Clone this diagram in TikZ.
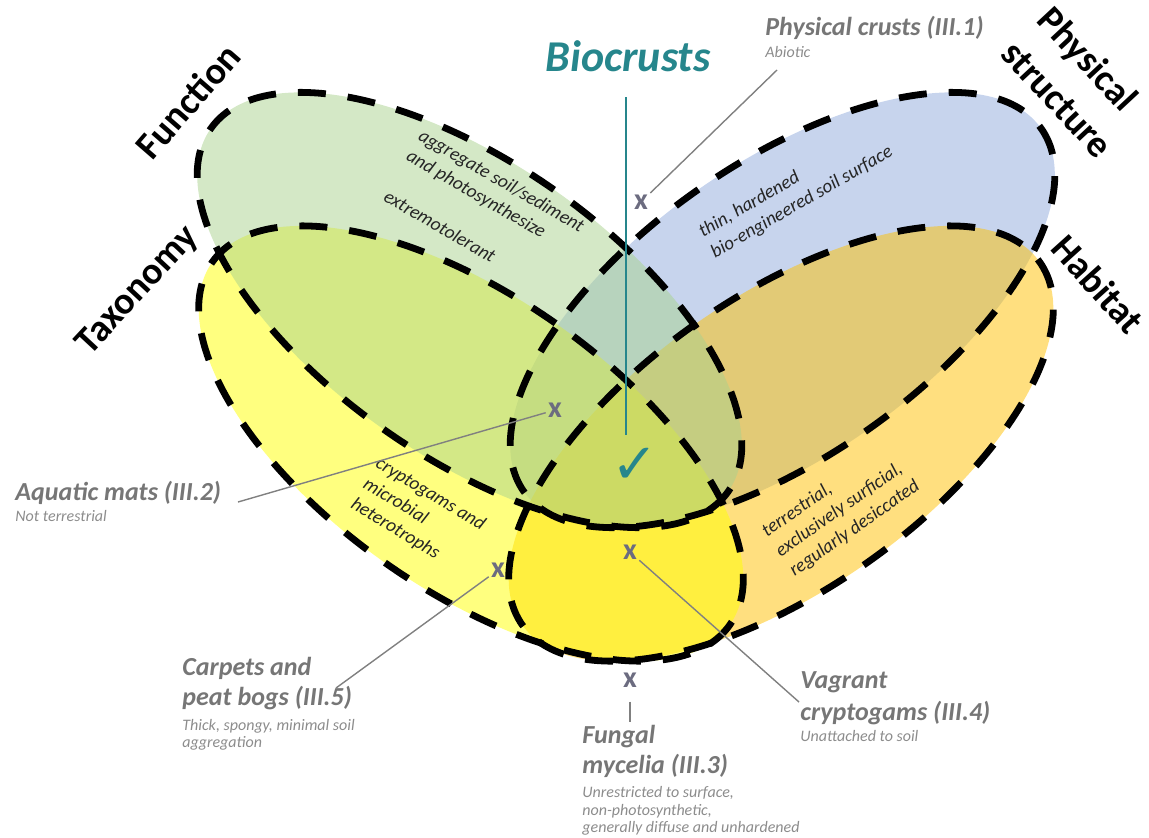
\documentclass[tikz,border=0pt]{standalone}
\usepackage{fontspec}
\setmainfont{Carlito}
\newfontfamily\tickfont{DejaVu Sans}
\usepackage{tikz}

\definecolor{physfill}{RGB}{143,170,220}
\definecolor{habfill}{RGB}{255,192,0}
\definecolor{taxfill}{RGB}{255,255,0}
\definecolor{funcfill}{RGB}{169,209,142}
\definecolor{bioteal}{RGB}{38,134,140}
\definecolor{lblgray}{RGB}{118,118,118}
\definecolor{notegray}{RGB}{140,140,140}
\definecolor{xgray}{RGB}{108,108,128}
\definecolor{pointergray}{RGB}{128,128,128}

\begin{document}
\begin{tikzpicture}[x=0.5pt,y=-0.5pt,
  petal/.style={draw=black,line width=3.4pt,dash pattern=on 14pt off 11pt},
  group/.style={font=\bfseries\fontsize{19}{25}\selectfont,align=left},
  trait/.style={font=\itshape\fontsize{9.5}{12}\selectfont,align=left,text=black!85},
  case/.style={font=\bfseries\itshape\fontsize{13}{15}\selectfont,text=lblgray,anchor=base west,inner sep=0pt},
  note/.style={font=\itshape\fontsize{8}{8.5}\selectfont,text=notegray,anchor=base west,inner sep=0pt},
  xmark/.style={font=\bfseries\fontsize{15}{15}\selectfont,text=xgray,inner sep=1pt},
  pointer/.style={draw=pointergray,line width=0.7pt}]

\useasboundingbox (0,0) rectangle (1149,837);

% the four petals: fills first, dashed outlines on top
\foreach \c/\a/\col in {{782.5,310}/35/physfill,{781,443.5}/35/habfill,{471,443.5}/-35/taxfill,{469.5,310}/-35/funcfill}
  \fill[\col,fill opacity=0.5,rotate around={\a:(\c)}] (\c) ellipse [x radius=316,y radius=147];
\foreach \c/\a in {{782.5,310}/35,{781,443.5}/35,{471,443.5}/-35,{469.5,310}/-35}
  \draw[petal,rotate around={\a:(\c)}] (\c) ellipse [x radius=316,y radius=147];

\node[group,rotate=49] (function) at (188,101) {Function};
\node[group,rotate=47] (taxonomy) at (138,291) {Taxonomy};
\node[group,rotate=-47] (physical) at (1076,82) {Physical\\structure};
\node[group,rotate=-48] (habitat) at (1098,284) {Habitat};

\node[font=\bfseries\itshape\fontsize{22}{26}\selectfont,text=bioteal] (bio) at (628,56) {Biocrusts};
\coordinate (biotop) at (626,97);
\coordinate (bioend) at (626,435);
\draw[bioteal,line width=1.2pt] (biotop) -- (bioend);
\node[text=bioteal,font=\tickfont\fontsize{28}{28}\selectfont] (tick) at (635,466) {✓};

\node[trait,rotate=-30] (aggr) at (495,192) {aggregate soil/sediment\\and photosynthesize};
\node[trait,rotate=-30] (extr) at (440,226) {extremotolerant};
\node[trait,rotate=30] (thin) at (796,192) {thin, hardened\\bio-engineered soil surface};
\node[trait,rotate=-31] (cryp) at (418,515) {cryptogams and\\microbial\\heterotrophs};
\node[trait,rotate=35] (terr) at (841,509) {terrestrial,\\exclusively surficial,\\regularly desiccated};

\node[xmark] (xcrust) at (641,202) {x};
\node[xmark] (xaqua) at (555,410) {x};
\node[xmark] (xcarp) at (498,570) {x};
\node[xmark] (xvag) at (630,552) {x};
\node[xmark] (xfung) at (630,680) {x};

\node[case] (crust) at (765,35) {Physical crusts (III.1)};
\node[note] (crustn) at (765,57) {Abiotic};
\node[case] (aqua) at (15,500) {Aquatic mats (III.2)};
\node[note] (aquan) at (15,521) {Not terrestrial};
\node[case] (carp) at (182,675) {Carpets and};
\node[case] (carpb) at (182,705) {peat bogs (III.5)};
\node[note] (carpn) at (182,730) {Thick, spongy, minimal soil};
\node[note] (carpnb) at (182,747) {aggregation};
\node[case] (vag) at (800,688) {Vagrant};
\node[case] (vagb) at (800,720) {cryptogams (III.4)};
\node[note] (vagn) at (800,741) {Unattached to soil};
\node[case] (fung) at (582,743) {Fungal};
\node[case] (fungb) at (582,773) {mycelia (III.3)};
\node[note] (fungn) at (582,797) {Unrestricted to surface,};
\node[note] (fungnb) at (582,815) {non-photosynthetic,};
\node[note] (fungnc) at (582,832) {generally diffuse and unhardened};

\coordinate (crustend) at (777,70);
\coordinate (aquaend) at (238,502);
\coordinate (carpend) at (336,688);
\coordinate (vagend) at (799,702);
\coordinate (fungend) at (630,722);
\draw[pointer] (xcrust) -- (crustend);
\draw[pointer] (xaqua) -- (aquaend);
\draw[pointer] (xcarp) -- (carpend);
\draw[pointer] (xvag) -- (vagend);
\draw[pointer,shorten <=6pt] (xfung) -- (fungend);
\end{tikzpicture}
\end{document}
